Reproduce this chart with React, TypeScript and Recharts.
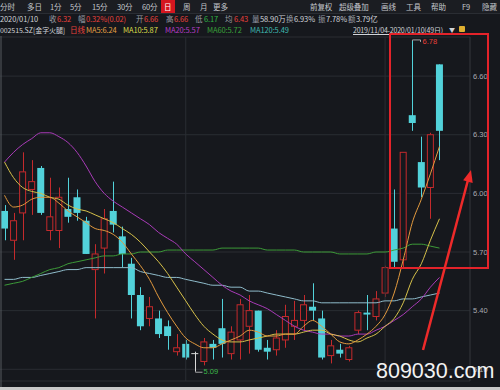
import React from "react"
import { ComposedChart, Bar, Line, XAxis, YAxis, CartesianGrid, ReferenceLine } from "recharts"

// trading days 2019/11/04 - 2020/01/10 (49)
const dates = [
	"11-04", "11-05", "11-06", "11-07", "11-08", "11-11", "11-12", "11-13", "11-14", "11-15",
	"11-18", "11-19", "11-20", "11-21", "11-22", "11-25", "11-26", "11-27", "11-28", "11-29",
	"12-02", "12-03", "12-04", "12-05", "12-06", "12-09", "12-10", "12-11", "12-12", "12-13",
	"12-16", "12-17", "12-18", "12-19", "12-20", "12-23", "12-24", "12-25", "12-26", "12-27",
	"12-30", "12-31", "01-02", "01-03", "01-06", "01-07", "01-08", "01-09", "01-10",
]
const opens = [
	5.91, 5.76, 5.90, 6.02, 6.13, 5.81, 5.81, 5.92, 5.98, 5.86,
	5.61, 5.72, 5.91, 5.78, 5.64, 5.48, 5.36, 5.36, 5.32, 5.19,
	5.23, 5.18, 5.14, 5.23, 5.31, 5.18, 5.25, 5.32, 5.40, 5.21,
	5.20, 5.25, 5.32, 5.35, 5.42, 5.36, 5.17, 5.20, 5.15, 5.30,
	5.39, 5.37, 5.49, 5.82, 5.66, 6.40, 6.16, 6.03, 6.66,
]
const highs = [
	5.94, 5.90, 6.21, 6.17, 6.14, 6.08, 6.03, 6.08, 6.02, 5.88,
	5.74, 5.92, 6.06, 5.83, 5.67, 5.52, 5.47, 5.40, 5.35, 5.28,
	5.25, 5.19, 5.26, 5.25, 5.46, 5.32, 5.46, 5.48, 5.40, 5.25,
	5.30, 5.43, 5.45, 5.48, 5.54, 5.40, 5.25, 5.23, 5.22, 5.40,
	5.48, 5.50, 5.63, 6.02, 6.21, 6.78, 6.29, 6.31, 6.66,
]
const lows = [
	5.76, 5.66, 5.76, 5.89, 5.89, 5.76, 5.72, 5.85, 5.86, 5.69,
	5.36, 5.59, 5.80, 5.62, 5.36, 5.30, 5.32, 5.26, 5.20, 5.17,
	5.15, 5.09, 5.12, 5.15, 5.16, 5.15, 5.15, 5.18, 5.19, 5.15,
	5.17, 5.21, 5.25, 5.30, 5.35, 5.15, 5.13, 5.16, 5.14, 5.28,
	5.30, 5.35, 5.47, 5.62, 5.62, 6.32, 5.98, 5.87, 6.17,
]
const closes = [
	5.82, 5.86, 6.11, 6.06, 5.90, 5.88, 5.98, 5.88, 5.90, 5.69,
	5.69, 5.87, 5.84, 5.69, 5.48, 5.32, 5.42, 5.28, 5.27, 5.21,
	5.16, 5.18, 5.24, 5.21, 5.23, 5.29, 5.43, 5.40, 5.20, 5.19,
	5.26, 5.37, 5.35, 5.43, 5.40, 5.16, 5.22, 5.18, 5.21, 5.39,
	5.38, 5.46, 5.62, 5.65, 6.21, 6.36, 6.03, 6.30, 6.32,
]
const ma5 = [
	5.99, 5.93, 5.94, 5.97, 5.98, 5.98, 5.95, 5.91, 5.88, 5.85,
	5.82, 5.81, 5.79, 5.75, 5.69, 5.63, 5.56, 5.47, 5.39, 5.32,
	5.26, 5.23, 5.21, 5.21, 5.23, 5.25, 5.27, 5.30, 5.29, 5.27,
	5.27, 5.28, 5.28, 5.32, 5.35, 5.32, 5.28, 5.24, 5.23, 5.25,
	5.28, 5.32, 5.38, 5.49, 5.66, 5.85, 5.97, 6.10, 6.24,
]
const ma10 = [
	6.16, 6.08, 6.03, 6.01, 6.00, 5.98, 5.97, 5.94, 5.92, 5.91,
	5.89, 5.87, 5.85, 5.82, 5.79, 5.75, 5.70, 5.65, 5.59, 5.52,
	5.45, 5.38, 5.32, 5.28, 5.25, 5.24, 5.24, 5.25, 5.26, 5.27,
	5.28, 5.28, 5.28, 5.29, 5.30, 5.30, 5.28, 5.27, 5.25, 5.24,
	5.26, 5.28, 5.32, 5.36, 5.44, 5.56, 5.64, 5.76, 5.87,
]
const ma20 = [
	6.16, 6.21, 6.25, 6.28, 6.31, 6.31, 6.29, 6.26, 6.21, 6.14,
	6.06, 6.00, 5.96, 5.93, 5.90, 5.87, 5.84, 5.80, 5.77, 5.74,
	5.69, 5.65, 5.61, 5.57, 5.53, 5.50, 5.48, 5.45, 5.43, 5.41,
	5.38, 5.35, 5.32, 5.30, 5.29, 5.28, 5.28, 5.27, 5.27, 5.28,
	5.28, 5.30, 5.32, 5.35, 5.38, 5.42, 5.46, 5.52, 5.57,
]
const ma60 = [
	5.53, 5.54, 5.55, 5.57, 5.59, 5.61, 5.62, 5.64, 5.65, 5.66,
	5.67, 5.68, 5.68, 5.69, 5.69, 5.70, 5.70, 5.70, 5.71, 5.71,
	5.71, 5.71, 5.71, 5.71, 5.72, 5.72, 5.72, 5.72, 5.72, 5.71,
	5.71, 5.71, 5.71, 5.70, 5.70, 5.70, 5.70, 5.69, 5.69, 5.69,
	5.69, 5.70, 5.70, 5.71, 5.72, 5.74, 5.74, 5.73, 5.72,
]
const ma120 = [
	5.56, 5.56, 5.57, 5.57, 5.58, 5.59, 5.60, 5.61, 5.61, 5.62,
	5.62, 5.62, 5.62, 5.62, 5.62, 5.60, 5.59, 5.58, 5.57, 5.57,
	5.56, 5.55, 5.54, 5.53, 5.53, 5.52, 5.52, 5.50, 5.50, 5.49,
	5.48, 5.47, 5.46, 5.45, 5.45, 5.44, 5.44, 5.44, 5.44, 5.44,
	5.44, 5.44, 5.45, 5.45, 5.46, 5.46, 5.47, 5.48, 5.49,
]
const yTicks = [5.1, 5.4, 5.7, 6.0, 6.3, 6.6]

const data = dates.map((d, i) => ({
	d,
	o: opens[i],
	h: highs[i],
	l: lows[i],
	c: closes[i],
	ma5: ma5[i],
	ma10: ma10[i],
	ma20: ma20[i],
	ma60: ma60[i],
	ma120: ma120[i],
	mark: d === "01-07" ? "high" : d === "12-03" ? "low" : undefined,
}))

const BG = "#16181d"
const UP = "#c42a2c"
const DOWN = "#52d2da"
const GRID = "#2a2d33"
const CJK = "'Noto Sans CJK SC', 'Noto Sans', sans-serif"

function Candle(props: any) {
	const { x, y, width, height, payload } = props
	const { o, h, l, c, mark } = payload
	const yTop = Math.min(y, y + height)
	const yBot = Math.max(y, y + height)
	const k = (yBot - yTop) / (h - l)
	const yO = yTop + (h - o) * k
	const yC = yTop + (h - c) * k
	const cx = Math.round(x + width / 2) + 0.5
	const top = Math.min(yO, yC)
	const bot = Math.max(yO, yC)
	let body
	if (c > o) {
		body = (
			<g>
				<line x1={cx} x2={cx} y1={yTop} y2={top} stroke={UP} />
				<line x1={cx} x2={cx} y1={bot} y2={yBot} stroke={UP} />
				<rect x={x + 0.5} y={top} width={width - 1} height={Math.max(bot - top, 1)} fill={BG} stroke={UP} />
			</g>
		)
	} else if (c < o) {
		body = (
			<g>
				<line x1={cx} x2={cx} y1={yTop} y2={yBot} stroke={DOWN} />
				<rect x={x} y={top} width={width} height={Math.max(bot - top, 1.5)} fill={DOWN} />
			</g>
		)
	} else {
		body = (
			<g>
				<line x1={cx} x2={cx} y1={yTop} y2={yBot} stroke="#d8d8d8" />
				<line x1={x} x2={x + width} y1={yO} y2={yO} stroke="#d8d8d8" />
			</g>
		)
	}
	return (
		<g>
			{body}
			{mark === "high" && (
				<g>
					<polyline points={`${cx},${yTop} ${cx},${yTop - 1} ${cx + 8},${yTop - 1} ${cx + 8},${yTop + 1}`} fill="none" stroke="#c8c8c8" strokeWidth={0.8} />
					<text x={cx + 10} y={yTop + 3} fontSize={7.5} fill="#e8403a" fontFamily="Arial, sans-serif">{h.toFixed(2)}</text>
				</g>
			)}
			{mark === "low" && (
				<g>
					<polyline points={`${cx},${yBot} ${cx},${yBot + 1} ${cx + 7},${yBot + 1}`} fill="none" stroke="#c8c8c8" strokeWidth={0.8} />
					<text x={cx + 8} y={yBot + 3} fontSize={7.5} fill="#3cb84a" fontFamily="Arial, sans-serif">{l.toFixed(2)}</text>
				</g>
			)}
		</g>
	)
}

function T({ x, y, c = "#c4c7cc", s = 7.5, children }: any) {
	return (
		<span style={{ position: "absolute", left: x, top: y, color: c, fontSize: s, lineHeight: "10px", whiteSpace: "nowrap", letterSpacing: -0.1 }}>
			{children}
		</span>
	)
}

export default function App() {
	const grey = "#9a9ea6"
	const red = "#e8413c"
	const white = "#d0d3d8"
	return (
		<div style={{ position: "absolute", left: 0, top: 0, width: 500, height: 390, background: BG, overflow: "hidden", fontFamily: CJK }}>
			{/* toolbar */}
			<div style={{ position: "absolute", left: 0, top: 0, width: 500, height: 13, background: "#1b1d22", borderBottom: "1px solid #2a2d33" }} />
			<div style={{ position: "absolute", left: 161, top: 0, width: 14, height: 13, background: "#d4161f" }} />
			<T x={0} y={1.5}>分时</T>
			<T x={27} y={1.5}>多日</T>
			<T x={50} y={1.5}>1分</T>
			<T x={70} y={1.5}>5分</T>
			<T x={92} y={1.5}>15分</T>
			<T x={117} y={1.5}>30分</T>
			<T x={142} y={1.5}>60分</T>
			<T x={164} y={1.5} c="#ffffff">日</T>
			<T x={183} y={1.5}>周</T>
			<T x={200} y={1.5}>月</T>
			<T x={213} y={1.5}>更多</T>
			<T x={310} y={1.5}>前复权</T>
			<T x={339} y={1.5}>超级叠加</T>
			<T x={381} y={1.5}>画线</T>
			<T x={406} y={1.5}>工具</T>
			<T x={431} y={1.5}>帮助</T>
			<T x={462} y={1.5}>F9</T>
			<T x={482} y={1.5}>隐藏</T>

			{/* quote row */}
			<T x={0} y={13.5} c={white}>2020/01/10</T>
			<T x={49} y={13.5} c={grey}>收</T>
			<T x={57} y={13.5} c={red}>6.32</T>
			<T x={78} y={13.5} c={grey}>幅</T>
			<T x={86} y={13.5} c={red}>0.32%(0.02)</T>
			<T x={136} y={13.5} c={grey}>开</T>
			<T x={144} y={13.5} c={red}>6.66</T>
			<T x={166} y={13.5} c={grey}>高</T>
			<T x={174} y={13.5} c={red}>6.66</T>
			<T x={195} y={13.5} c={grey}>低</T>
			<T x={204} y={13.5} c="#2fb344">6.17</T>
			<T x={225} y={13.5} c={grey}>均</T>
			<T x={234} y={13.5} c={red}>6.43</T>
			<T x={252} y={13.5} c={grey}>量</T>
			<T x={260} y={13.5} c={white}>58.90万</T>
			<T x={286} y={13.5} c={grey}>换</T>
			<T x={294} y={13.5} c={white}>6.93%</T>
			<T x={318} y={13.5} c={grey}>振</T>
			<T x={326} y={13.5} c={white}>7.78%</T>
			<T x={348} y={13.5} c={grey}>额</T>
			<T x={356} y={13.5} c={white}>3.79亿</T>

			{/* indicator row */}
			<T x={0} y={25} c={white} s={7}>002515.SZ</T>
			<T x={33} y={25} c={white} s={7}>[金字火腿]</T>
			<T x={70} y={25} c={red}>日线</T>
			<T x={86} y={25} c="#e3a043">MA5:6.24</T>
			<T x={123} y={25} c="#dcdc4a">MA10:5.87</T>
			<T x={165} y={25} c="#b53cc4">MA20:5.57</T>
			<T x={207} y={25} c="#3aa13a">MA60:5.72</T>
			<T x={250} y={25} c="#3fb8b0">MA120:5.49</T>
			<T x={353} y={25} c={white} s={7}>
				<span style={{ textDecoration: "underline", letterSpacing: -0.2 }}>2019/11/04-2020/01/10(49日)</span>
			</T>
			<T x={449} y={25} c={white} s={6}>▼</T>
			<div style={{ position: "absolute", left: 459, top: 26, width: 6, height: 6, background: "#e0b030", borderRadius: 1 }} />

			<div style={{ position: "absolute", left: 0, top: 0 }}>
				<ComposedChart width={500} height={390} data={data} margin={{ top: 37, right: 0, bottom: 9, left: 0 }}>
					<CartesianGrid vertical={false} stroke={GRID} />
					<XAxis dataKey="d" hide padding={{ left: 0, right: 26 }} />
					<YAxis
						orientation="right"
						width={30}
						domain={[5.04, 6.8]}
						ticks={yTicks}
						allowDataOverflow
						axisLine={{ stroke: "#34373d" }}
						tickLine={false}
						tickSize={0}
						tickMargin={3}
						tick={{ fill: "#a8acb2", fontSize: 7.5, fontFamily: "Arial, sans-serif" }}
						tickFormatter={(v: number) => v.toFixed(2)}
					/>
					<ReferenceLine x="12-02" stroke={GRID} />
					<ReferenceLine x="01-02" stroke={GRID} />
					<Bar dataKey={(d: any) => [d.l, d.h]} barSize={7} shape={Candle} isAnimationActive={false} />
					<Line dataKey="ma120" stroke="#8fbccb" strokeWidth={1} dot={false} type="monotone" isAnimationActive={false} />
					<Line dataKey="ma60" stroke="#3c9a38" strokeWidth={1} dot={false} type="monotone" isAnimationActive={false} />
					<Line dataKey="ma20" stroke="#a93bb8" strokeWidth={1} dot={false} type="monotone" isAnimationActive={false} />
					<Line dataKey="ma10" stroke="#d6c14a" strokeWidth={1} dot={false} type="monotone" isAnimationActive={false} />
					<Line dataKey="ma5" stroke="#e39a3e" strokeWidth={1} dot={false} type="monotone" isAnimationActive={false} />
				</ComposedChart>
			</div>

			{/* annotation box + arrow */}
			<svg width={500} height={390} style={{ position: "absolute", left: 0, top: 0, pointerEvents: "none" }}>
				<line x1={1} x2={1} y1={36} y2={387} stroke="#55585e" />
				<rect x={390} y={34} width={98} height={234} fill="none" stroke="#e3232a" strokeWidth={2} />
				<line x1={423} y1={350} x2={468} y2={180} stroke="#ee2a2a" strokeWidth={2.5} />
				<polygon points="471,170 472.7,182.9 463.1,180.3" fill="#ee2a2a" />
				<rect x={0} y={387} width={500} height={3} fill="#c9c9c9" />
			</svg>
			<div style={{ position: "absolute", left: 376, top: 358, color: "#f2f2f2", fontSize: 21.5, fontFamily: "'Liberation Sans', Arial, sans-serif", lineHeight: "26px" }}>
				809030.com
			</div>
		</div>
	)
}
